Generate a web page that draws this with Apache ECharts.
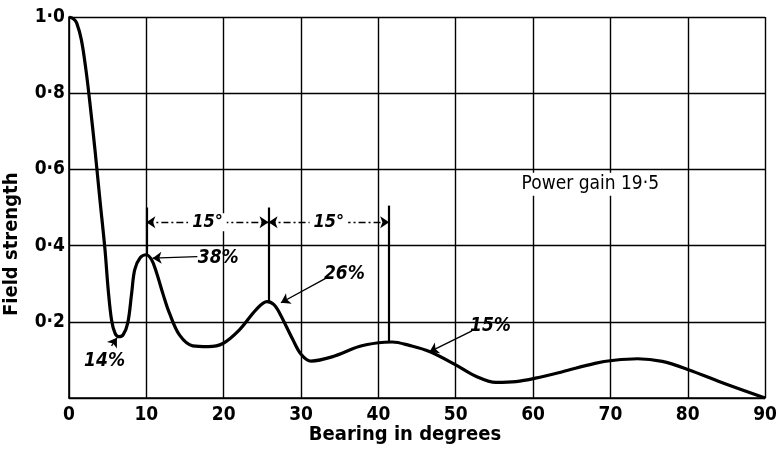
<!DOCTYPE html>
<html><head><meta charset="utf-8">
<script src="https://cdn.jsdelivr.net/npm/echarts@6/dist/echarts.min.js"></script>
<style>html,body{margin:0;padding:0;background:#fff}#c{width:780px;height:451px}</style>
</head><body><div id="c"></div>
<script>
const bearing = [0,0.6,1.0,1.6,2.2,2.7,3.35,4.0,4.65,5.07,5.5,5.95,6.4,7.0,7.6,8.1,8.5,9.2,10.0,10.7,11.3,12.2,13.0,14.3,16.0,18.0,19.9,22.0,24.2,25.6,26.5,27.3,28.9,30.0,31.3,34.0,37.5,40.0,41.8,44.0,46.6,50.0,52.6,55.2,57.8,60.3,63.8,68.0,70.5,73.5,76.7,80.0,85.0,90.0];
const field = [1.0,0.995,0.984,0.94,0.86,0.775,0.653,0.52,0.39,0.284,0.205,0.17,0.161,0.166,0.197,0.275,0.337,0.368,0.376,0.362,0.33,0.27,0.222,0.165,0.137,0.135,0.143,0.178,0.232,0.253,0.245,0.22,0.155,0.115,0.097,0.108,0.135,0.145,0.147,0.138,0.122,0.087,0.057,0.041,0.043,0.052,0.069,0.091,0.099,0.103,0.096,0.075,0.036,0.0];
const xTicks = [0,10,20,30,40,50,60,70,80,90];
const yTicks = [0,0.2,0.4,0.6,0.8,1.0];
const peakLabels = [
  {text:'38%', at:[19.3,0.366], from:[16.6,0.371], to:[10.8,0.367]},
  {text:'26%', at:[35.6,0.324], from:[33.3,0.315], to:[27.4,0.25]},
  {text:'15%', at:[54.5,0.188], from:[52.1,0.176], to:[46.6,0.121]},
  {text:'14%', at:[4.6,0.096], from:[5.5,0.137], to:[6.2,0.158]}
];
const spans = [ {from:10, to:25.8, y:0.461, text:'15°'}, {from:25.8, to:41.4, y:0.461, text:'15°'} ];
const markers = [ {x:10, top:0.5, bottom:0.376}, {x:25.8, top:0.5, bottom:0.253}, {x:41.4, top:0.505, bottom:0.147} ];
const gainText = {text:'Power gain 19·5', at:[67.4,0.561]};
const axisTitles = {x:'Bearing in degrees', y:'Field strength'};

const FONT = "'DejaVu Sans Condensed','DejaVu Sans',sans-serif";
const fmtDot = v => v.toFixed(1).replace('.', '·');
const curve = bearing.map((b,i)=>[b, field[i]]);

const ml = [];
spans.forEach(s => ml.push([
  {coord:[s.from, s.y], symbol:'arrow', label:{show:true, position:'insideMiddle', formatter:s.text, fontFamily:FONT, fontStyle:'italic', fontWeight:'bold', fontSize:18, color:'#000', backgroundColor:'#fff', padding:[0,4]}, lineStyle:{type:[7,3,2,3], width:1.3}},
  {coord:[s.to, s.y], symbol:'arrow'}
]));
markers.forEach(m => ml.push([
  {coord:[m.x, m.top], symbol:'none', label:{show:false}, lineStyle:{type:'solid', width:2.2}},
  {coord:[m.x, m.bottom], symbol:'none'}
]));
peakLabels.forEach(p => ml.push([
  {coord:p.from, symbol:'none', label:{show:false}, lineStyle:{type:'solid', width:1.4}},
  {coord:p.to, symbol:'arrow'}
]));

const mp = peakLabels.map(p => ({coord:p.at, value:p.text}));
mp.push({coord:gainText.at, value:gainText.text, label:{fontStyle:'normal', fontWeight:'normal', fontSize:19, backgroundColor:'#fff', padding:[2,4]}});

const chart = echarts.init(document.getElementById('c'));
chart.setOption({
  backgroundColor:'#fff',
  animation:false,
  grid:{left:69, right:13, top:17, bottom:53},
  xAxis:{type:'value', min:0, max:90, interval:10,
    axisLine:{lineStyle:{color:'#000', width:1.6}}, axisTick:{show:false},
    axisLabel:{color:'#000', fontFamily:FONT, fontWeight:'bold', fontSize:19, margin:8,
      customValues: xTicks, formatter: v => String(v)},
    splitLine:{show:true, lineStyle:{color:'#000', width:1.4}}},
  yAxis:{type:'value', min:0, max:1, interval:0.2,
    axisLine:{show:true, lineStyle:{color:'#000', width:1.6}}, axisTick:{show:false},
    axisLabel:{color:'#000', fontFamily:FONT, fontWeight:'bold', fontSize:19, margin:4,
      customValues: yTicks, formatter: v => v === 0 ? '' : fmtDot(v)},
    splitLine:{show:true, lineStyle:{color:'#000', width:1.4}}},
  graphic:[
    {type:'text', x:405, y:425, style:{text:axisTitles.x, textAlign:'center', font:"bold 20px 'DejaVu Sans Condensed','DejaVu Sans',sans-serif", fill:'#000'}},
    {type:'text', x:2, y:316, rotation:Math.PI/2, style:{text:axisTitles.y, font:"bold 20px 'DejaVu Sans Condensed','DejaVu Sans',sans-serif", fill:'#000'}}
  ],
  series:[
    {type:'line', data:curve, smooth:0.35, showSymbol:false, lineStyle:{color:'#000', width:3.2}, z:5},
    {type:'line', data:[], markLine:{silent:true, symbolSize:9, lineStyle:{color:'#000'}, label:{show:false}, data:ml},
     markPoint:{symbol:'circle', symbolSize:0, silent:true,
       label:{show:true, position:'inside', formatter: p => p.value, fontFamily:FONT, fontStyle:'italic', fontWeight:'bold', fontSize:19, color:'#000'}, data:mp}, z:6}
  ]
});
</script></body></html>
